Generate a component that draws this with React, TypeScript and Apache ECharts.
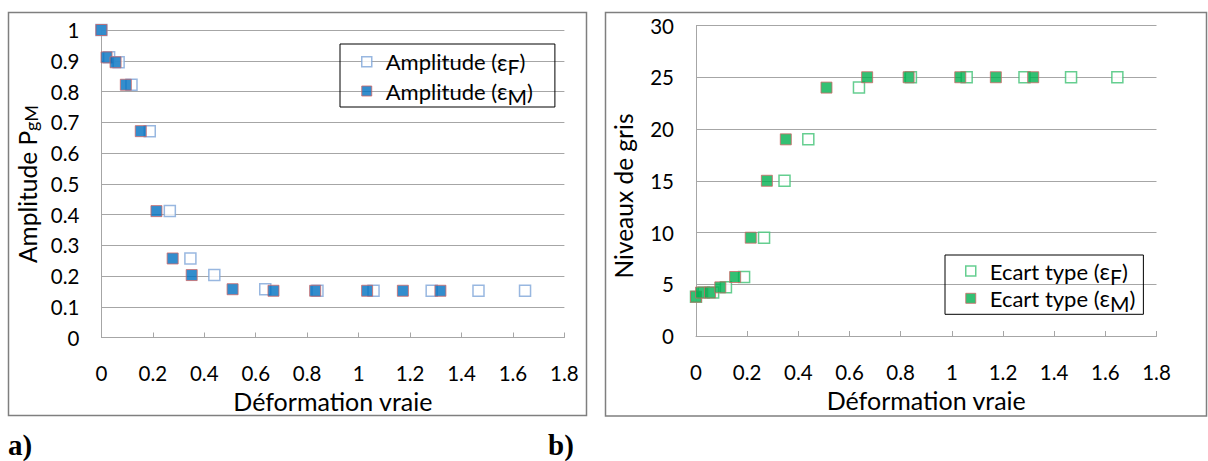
import React, { useEffect, useRef } from 'react';
import * as echarts from 'echarts';

// Déformation vraie (x) for the two measurement types
const xF = [0, 0.03, 0.067, 0.117, 0.188, 0.266, 0.346, 0.439, 0.637, 0.84, 1.058, 1.284, 1.466, 1.647];
const xM = [0, 0.02, 0.055, 0.095, 0.153, 0.214, 0.277, 0.351, 0.51, 0.669, 0.831, 1.033, 1.172, 1.318];
// Amplitude PgM
const amplitude = [1.0, 0.911, 0.895, 0.822, 0.671, 0.411, 0.257, 0.203, 0.157, 0.152, 0.152, 0.152, 0.152, 0.152];
// Niveaux de gris (écart type)
const ecartType = [3.8, 4.2, 4.2, 4.7, 5.7, 9.5, 15, 19, 24, 25, 25, 25, 25, 25];

const seriesNames = ['Amplitude (εF)', 'Amplitude (εM)', 'Ecart type (εF)', 'Ecart type (εM)'];
const xTitle = 'Déformation vraie';
const yTitleLeft = ['Amplitude P', 'gM'];
const yTitleRight = 'Niveaux de gris';
const panelLabels = ['a)', 'b)'];

const FONT = 'Lato, "Noto Sans", sans-serif';
const GRID = '#a6a6a6';

const pairs = (xs: number[], ys: number[]) => xs.map((x, i) => [x, ys[i]]);

export default function App() {
  const ref = useRef<HTMLDivElement>(null);
  useEffect(() => {
    if (!ref.current) return;
    const chart = echarts.init(ref.current, null, { renderer: 'svg' });

    const xAxisBase = (gridIndex: number) => ({
      type: 'value',
      gridIndex,
      min: 0,
      max: 1.8,
      interval: 0.2,
      axisLine: { show: true, lineStyle: { color: GRID, width: 1 } },
      axisTick: { show: true, inside: true, length: 5, lineStyle: { color: GRID } },
      splitLine: { show: false },
      axisLabel: {
        margin: 25,
        fontSize: 20.5,
        color: '#000',
        fontFamily: FONT,
        formatter: (v: number) => String(Math.round(v * 10) / 10),
      },
      name: xTitle,
      nameLocation: 'middle',
      nameGap: 51,
      nameTextStyle: { fontSize: 25, color: '#000', fontFamily: FONT },
    });

    const yAxisBase = (gridIndex: number, max: number, interval: number) => ({
      type: 'value',
      gridIndex,
      min: 0,
      max,
      interval,
      axisLine: { show: true, lineStyle: { color: GRID, width: 1 } },
      axisTick: { show: false },
      splitLine: { show: true, lineStyle: { color: GRID, width: 1 } },
      axisLabel: {
        margin: 22,
        fontSize: 20.5,
        color: '#000',
        fontFamily: FONT,
        formatter: (v: number) => String(Math.round(v * 10) / 10),
      },
    });

    const legendRich = {
      e: { fontSize: 23, fontFamily: FONT, color: '#000', lineHeight: 32 },
      s: { fontSize: 21, fontFamily: FONT, color: '#000', lineHeight: 14, padding: [10, 0, 0, 0] },
    };
    const legendFormatter = (name: string) => name.replace(/\(ε(\w)\)/, '({e|ε}{s|$1})');

    const legendBase = {
      orient: 'vertical',
      borderColor: '#000',
      borderWidth: 1,
      itemWidth: 10,
      itemHeight: 10,
      icon: 'rect',
      formatter: legendFormatter,
      textStyle: {
        fontSize: 22,
        fontFamily: FONT,
        color: '#000',
        lineHeight: 32,
        padding: [0, 0, 0, 9],
        rich: legendRich,
      },
    };

    const hollowBlue = { color: '#ffffff', borderColor: '#7ea5d8', borderWidth: 1.5 };
    const filledBlue = { color: '#0070c0', borderColor: '#d06868', borderWidth: 1 };
    const hollowGreen = { color: '#ffffff', borderColor: '#3fc274', borderWidth: 1.5 };
    const filledGreen = { color: '#00b050', borderColor: '#d06868', borderWidth: 1 };

    const option = {
      animation: false,
      backgroundColor: '#ffffff',
      grid: [
        { left: 101.4, top: 30, width: 463, height: 307.5 },
        { left: 696, top: 25.5, width: 460.5, height: 310.5 },
      ],
      xAxis: [xAxisBase(0), xAxisBase(1)],
      yAxis: [yAxisBase(0, 1, 0.1), yAxisBase(1, 30, 5)],
      legend: [
        {
          ...legendBase,
          left: 340,
          top: 44,
          padding: [1.7, 22, 0, 21],
          itemGap: -2.7,
          data: [
            { name: seriesNames[0], itemStyle: hollowBlue },
            { name: seriesNames[1], itemStyle: filledBlue },
          ],
        },
        {
          ...legendBase,
          left: 945,
          top: 255,
          padding: [0, 8, 0, 20],
          itemGap: -4.7,
          data: [
            { name: seriesNames[2], itemStyle: hollowGreen },
            { name: seriesNames[3], itemStyle: filledGreen },
          ],
        },
      ],
      series: [
        {
          name: seriesNames[0], type: 'scatter', xAxisIndex: 0, yAxisIndex: 0,
          symbol: 'rect', symbolSize: 11, itemStyle: hollowBlue, data: pairs(xF, amplitude),
        },
        {
          name: seriesNames[1], type: 'scatter', xAxisIndex: 0, yAxisIndex: 0,
          symbol: 'rect', symbolSize: 11, itemStyle: filledBlue, data: pairs(xM, amplitude),
        },
        {
          name: seriesNames[2], type: 'scatter', xAxisIndex: 1, yAxisIndex: 1,
          symbol: 'rect', symbolSize: 11, itemStyle: hollowGreen, data: pairs(xF, ecartType),
        },
        {
          name: seriesNames[3], type: 'scatter', xAxisIndex: 1, yAxisIndex: 1,
          symbol: 'rect', symbolSize: 11, itemStyle: filledGreen, data: pairs(xM, ecartType),
        },
      ],
      graphic: [
        {
          type: 'rect', silent: true,
          shape: { x: 8.5, y: 12.5, width: 578, height: 403 },
          style: { fill: 'none', stroke: '#7f7f7f', lineWidth: 1.5 },
        },
        {
          type: 'rect', silent: true,
          shape: { x: 605.5, y: 12.5, width: 601, height: 403.5 },
          style: { fill: 'none', stroke: '#7f7f7f', lineWidth: 1.5 },
        },
        {
          type: 'text', silent: true, x: 27, y: 184, rotation: Math.PI / 2,
          style: {
            text: `{a|${yTitleLeft[0]}}{b|${yTitleLeft[1]}}`,
            align: 'center', verticalAlign: 'middle',
            rich: {
              a: { fontSize: 24.5, fontFamily: FONT, fill: '#000', lineHeight: 26 },
              b: { fontSize: 18, fontFamily: FONT, fill: '#000', lineHeight: 12, verticalAlign: 'bottom' },
            },
          },
        },
        {
          type: 'text', silent: true, x: 623, y: 196, rotation: Math.PI / 2,
          style: {
            text: yTitleRight, fontSize: 24.5, fontFamily: FONT, fill: '#000',
            align: 'center', verticalAlign: 'middle',
          },
        },
        {
          type: 'text', silent: true, x: 8, y: 445,
          style: {
            text: panelLabels[0], font: 'bold 29px "Liberation Serif", "DejaVu Serif", serif', fill: '#000',
            align: 'left', verticalAlign: 'middle',
          },
        },
        {
          type: 'text', silent: true, x: 548, y: 445,
          style: {
            text: panelLabels[1], font: 'bold 29px "Liberation Serif", "DejaVu Serif", serif', fill: '#000',
            align: 'left', verticalAlign: 'middle',
          },
        },
      ],
    };

    chart.setOption(option as any);
    return () => chart.dispose();
  }, []);

  return (
    <div
      ref={ref}
      style={{ position: 'absolute', left: 0, top: 0, width: 1208, height: 461, background: '#fff' }}
    />
  );
}
